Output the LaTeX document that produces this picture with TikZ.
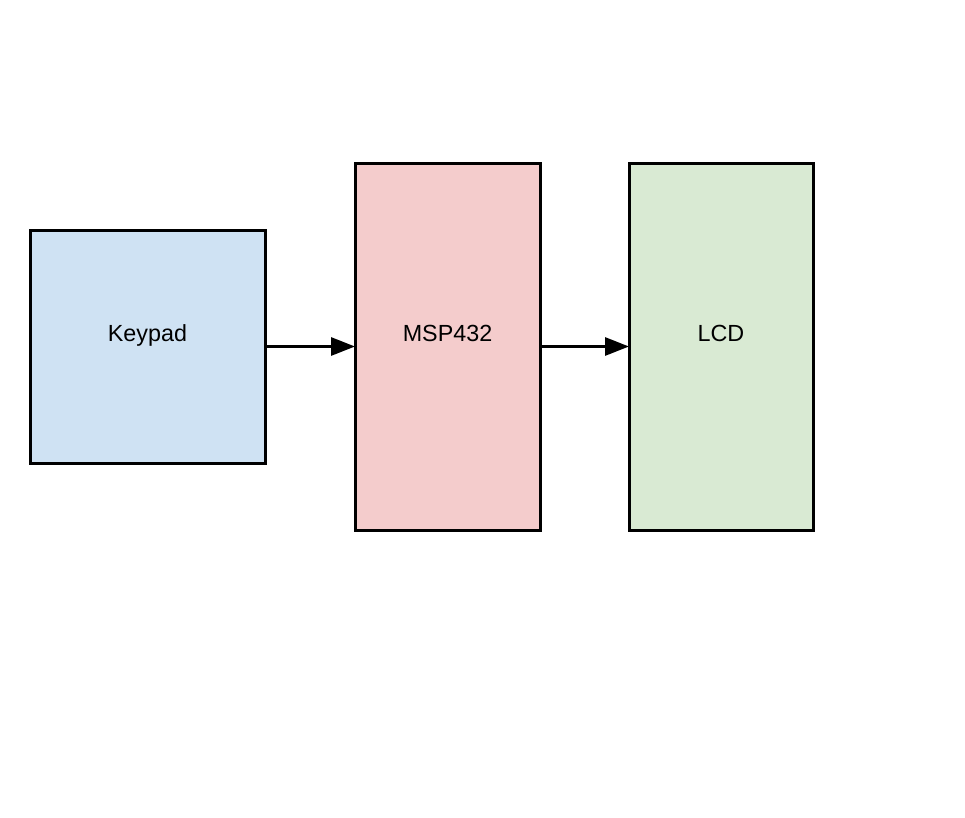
\documentclass[tikz,border=0pt]{standalone}
\usepackage{fontspec}
\setmainfont{Liberation Sans}
\usetikzlibrary{arrows.meta}
\definecolor{kblue}{HTML}{CFE2F3}
\definecolor{kred}{HTML}{F4CCCC}
\definecolor{kgreen}{HTML}{D9EAD3}
\tikzset{
  blk/.style={draw=black, line width=2.25pt, inner sep=0pt, outer sep=0pt},
  lbl/.style={font=\fontsize{17.5}{21}\selectfont, inner sep=0pt, anchor=base},
  conn/.style={line width=2.25pt, -{Triangle[length=18pt,width=13.5pt]}}
}
\begin{document}
\begin{tikzpicture}[x=0.75pt,y=-0.75pt]
\useasboundingbox (0,0) rectangle (965,818);
\node[blk, fill=kblue, minimum width=235*0.75pt, minimum height=233*0.75pt] (keypad) at (147.5,346.5) {};
\node[blk, fill=kred, minimum width=185*0.75pt, minimum height=367*0.75pt] (msp) at (447.5,346.5) {};
\node[blk, fill=kgreen, minimum width=184*0.75pt, minimum height=367*0.75pt] (lcd) at (721,346.5) {};
\node[lbl] (keypadtext) at (147.5,341) {Keypad};
\node[lbl] (msptext) at (447.5,341) {MSP432};
\node[lbl] (lcdtext) at (721,341) {LCD};
\draw[conn] (keypad.east) -- (msp.west);
\draw[conn] (msp.east) -- (lcd.west);
\end{tikzpicture}
\end{document}
